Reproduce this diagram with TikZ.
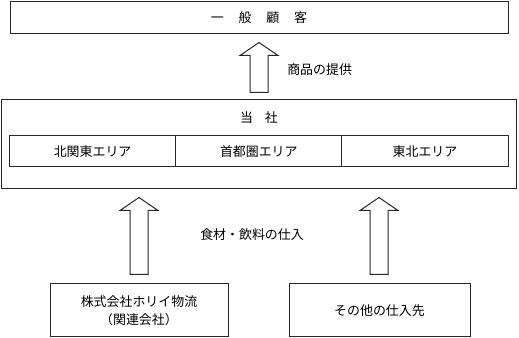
\documentclass[tikz,border=0pt]{standalone}
\usepackage{fontspec}
\newfontfamily\jpfont{Noto Sans CJK JP}
\usetikzlibrary{calc}
\definecolor{lineclr}{RGB}{40,40,40}

% hollow upward block arrow from #1 (shaft end) to #2 (tip)
\newcommand{\hollowup}[2]{%
  \draw[blockarr] ($(#1)+(-9,0)$) -- ($(#2)+(-9,13)$) -- ($(#2)+(-19,13)$)
    -- (#2) -- ($(#2)+(19,13)$) -- ($(#2)+(9,13)$) -- ($(#1)+(9,0)$) -- cycle;}

\begin{document}
\begin{tikzpicture}[
  x=0.75pt, y=-0.75pt,
  box/.style={draw=lineclr, line width=0.75pt, rectangle, inner sep=0pt,
              align=center, font=\jpfont\fontsize{9.7}{13.5}\selectfont},
  cell/.style={box, minimum width=124.65pt, minimum height=23.25pt},
  blockarr/.style={draw=lineclr, line width=0.75pt, fill=white, line join=miter},
  lbl/.style={font=\jpfont\fontsize{9.7}{13.5}\selectfont, inner sep=0pt}
]
  \useasboundingbox (0,0) rectangle (519,338);

  %% Customers
  \node[box, minimum width=373.5pt, minimum height=24pt] (cust) at (259,18)
    {一\hspace{1.15em}般\hspace{1.15em}顧\hspace{1.15em}客};

  %% Company with three areas
  \node[box, minimum width=386.25pt, minimum height=66.75pt] (corp) at (258.5,144.5) {};
  \node[lbl] (corpname) at (259,118) {当\hspace{0.9em}社};
  \node[cell] (kitakanto) at (92.6,151.5)  {北関東エリア};
  \node[cell] (shutoken)  at (258.8,151.5) {首都圏エリア};
  \node[cell] (tohoku)    at (425,151.5)   {東北エリア};

  %% Suppliers
  \node[box, minimum width=133.5pt, minimum height=39.75pt] (horii) at (139,310.5)
    {株式会社ホリイ物流\\（関連会社）};
  \node[box, minimum width=135.75pt, minimum height=39.75pt] (others) at (379.5,310.5)
    {その他の仕入先};

  %% Arrow ends
  \coordinate (a1s) at ($(corp.north -| 259,0)+(0,-7)$);
  \coordinate (a1e) at ($(cust.south -| 259,0)+(0,8)$);
  \coordinate (a2s) at ($(horii.north)+(0,-9)$);
  \coordinate (a2e) at ($(corp.south -| horii.north)+(0,8)$);
  \coordinate (a3s) at ($(others.north -| 379,0)+(0,-9)$);
  \coordinate (a3e) at ($(corp.south -| 379,0)+(0,8)$);

  %% Flows
  \hollowup{a1s}{a1e}
  \hollowup{a2s}{a2e}
  \hollowup{a3s}{a3e}
  \node[lbl, anchor=west] (supply) at (287,70) {商品の提供};
  \node[lbl] (purchase) at (252,235) {食材・飲料の仕入};
\end{tikzpicture}
\end{document}
